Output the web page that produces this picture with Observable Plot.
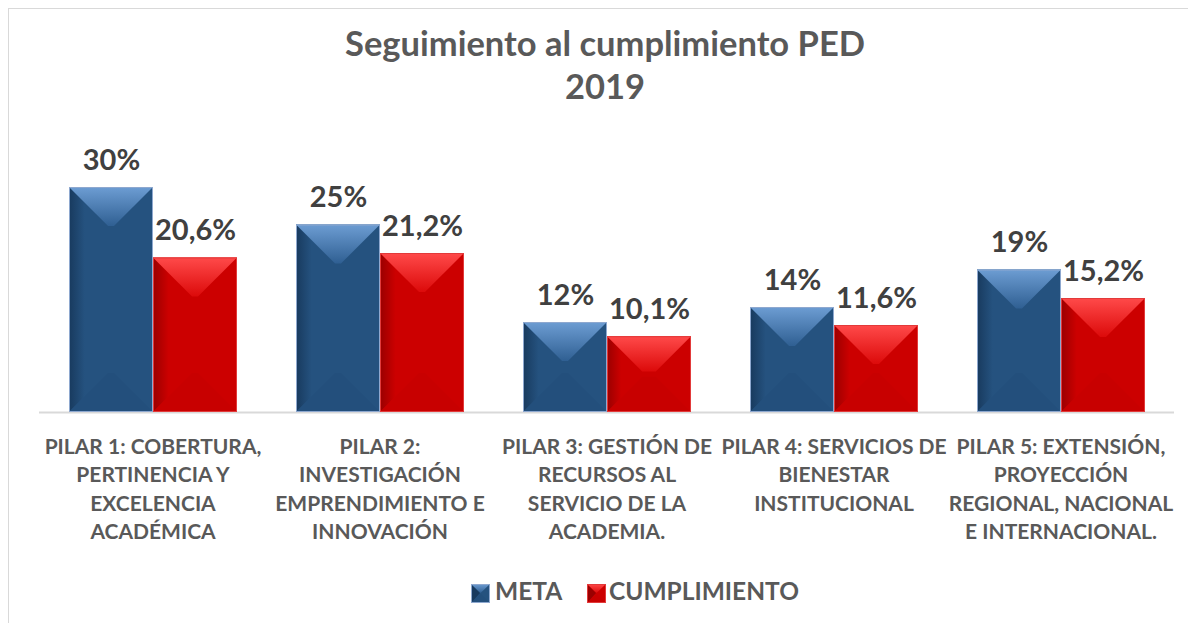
<!DOCTYPE html>
<html>
<head>
<meta charset="utf-8">
<script src="https://cdn.jsdelivr.net/npm/d3@7"></script>
<script src="https://cdn.jsdelivr.net/npm/@observablehq/plot@0.6"></script>
<style>
  html, body { margin: 0; padding: 0; background: #ffffff; }
  #wrap { position: relative; width: 1188px; height: 623px; overflow: hidden; font-family: Lato, "Open Sans", sans-serif; }
  #frame { position: absolute; left: 8px; top: 8px; width: 1300px; height: 800px; border: 1px solid #d9d9d9; box-sizing: border-box; }
  .title { position: absolute; left: 0; width: 1210px; text-align: center; font-weight: bold; font-size: 34.5px; line-height: 34.5px; color: #595959; white-space: nowrap; }
  #chart { position: absolute; left: 0; top: 120px; }
  .leg-text { position: absolute; font-weight: bold; font-size: 24.5px; line-height: 24.5px; color: #595959; white-space: nowrap; }
  .leg-sw { position: absolute; }
</style>
</head>
<body>
<div id="wrap">
  <div id="frame"></div>
  <div class="title" style="top:26px">Seguimiento al cumplimiento PED</div>
  <div class="title" style="top:69px">2019</div>
  <div id="chart"></div>
  <div id="legend"></div>
</div>
<script>
// ---- data ----
const categories = [
  "PILAR 1: COBERTURA,\nPERTINENCIA Y\nEXCELENCIA\nACADÉMICA",
  "PILAR 2:\nINVESTIGACIÓN\nEMPRENDIMIENTO E\nINNOVACIÓN",
  "PILAR 3: GESTIÓN DE\nRECURSOS AL\nSERVICIO DE LA\nACADEMIA.",
  "PILAR 4: SERVICIOS DE\nBIENESTAR\nINSTITUCIONAL",
  "PILAR 5: EXTENSIÓN,\nPROYECCIÓN\nREGIONAL, NACIONAL\nE INTERNACIONAL."
];
const series = ["META", "CUMPLIMIENTO"];
const meta = [30, 25, 12, 14, 19];
const cumplimiento = [20.6, 21.2, 10.1, 11.6, 15.2];

const seriesColors = ["#25527f", "#cc0000"];

const rows = categories.flatMap((c, i) => [
  {cat: c, serie: series[0], value: meta[i]},
  {cat: c, serie: series[1], value: cumplimiento[i]}
]);
const fmt = v => String(v).replace(".", ",") + "%";

const chart = Plot.plot({
  width: 1188,
  height: 440,
  marginLeft: 38,
  marginRight: 14,
  marginTop: 67,
  marginBottom: 148,
  style: {fontFamily: "Lato, 'Open Sans', sans-serif", background: "transparent", overflow: "visible"},
  fx: {domain: categories, paddingInner: 0, paddingOuter: 0, axis: null, label: null},
  x: {domain: series, paddingInner: 0, paddingOuter: 0.34, axis: null, label: null},
  y: {domain: [0, 30], axis: null, label: null},
  color: {domain: series, range: seriesColors},
  marks: [
    Plot.ruleY([0], {stroke: "#d9d9d9", strokeWidth: 2}),
    Plot.barY(rows, {fx: "cat", x: "serie", y: "value", fill: "serie", className: "pedbars"}),
    Plot.text(rows, {fx: "cat", x: "serie", y: "value", text: d => fmt(d.value), lineAnchor: "bottom", dy: -18,
      fontSize: 29, fontWeight: "bold", fill: "#404040"}),
    Plot.text(categories, {fx: d => d, text: d => d, frameAnchor: "bottom", lineAnchor: "top", dy: 21,
      fontSize: 21, fontWeight: "bold", fill: "#595959", lineHeight: 1.36})
  ]
});
document.getElementById("chart").appendChild(chart);

// ---- bevel shading (derived from the rendered bars) ----
const svg = d3.select(chart);
const defs = svg.insert("defs", ":first-child");
function addGrad(id, x2, y2, stops) {
  const g = defs.append("linearGradient").attr("id", id).attr("x1", 0).attr("y1", 0).attr("x2", x2).attr("y2", y2);
  stops.forEach(([o, c]) => g.append("stop").attr("offset", o).attr("stop-color", c));
}
const pal = {
  "#25527f": {top: ["#6d9dd3", "#2f5f92"], left: ["#183a5e", "#25527f"], bottom: "#234f7c", stroke: "#8ea8cf"},
  "#cc0000": {top: ["#ff4a4a", "#dc0a0a"], left: ["#9a0000", "#cc0000"], bottom: "#c80000", stroke: "#e23a3a"}
};
Object.entries(pal).forEach(([k, p], i) => {
  addGrad("top" + i, 0, 1, [[0, p.top[0]], [1, p.top[1]]]);
  addGrad("left" + i, 1, 0, [[0, p.left[0]], [0.4, p.left[1]], [1, p.left[1]]]);
});
function bevel(parent, x, y, w, h, idx, p) {
  const d = Math.min(w / 2, h / 2) * 0.93;
  const poly = (pts, fill) => parent.append("polygon").attr("points", pts.map(q => q.join(",")).join(" ")).attr("fill", fill);
  poly([[x, y], [x + d, y + d], [x + d, y + h - d], [x, y + h]], `url(#left${idx})`);
  poly([[x, y + h], [x + w, y + h], [x + w - d, y + h - d], [x + d, y + h - d]], p.bottom);
  poly([[x, y], [x + w, y], [x + w - d, y + d], [x + d, y + d]], `url(#top${idx})`);
  parent.append("rect").attr("x", x + 0.5).attr("y", y + 0.5).attr("width", w - 1).attr("height", h - 1)
    .attr("fill", "none").attr("stroke", p.stroke).attr("stroke-width", 1);
}
svg.selectAll("g.pedbars rect").each(function() {
  const r = d3.select(this);
  const fill = (r.attr("fill") || "").toLowerCase();
  const idx = fill === "#cc0000" ? 1 : 0;
  const p = pal[seriesColors[idx]];
  const x = +r.attr("x"), y = +r.attr("y"), w = +r.attr("width"), h = +r.attr("height");
  const g = d3.select(this.parentNode).append("g");
  bevel(g, x, y, w, h, idx, p);
});

// ---- legend ----
const legend = d3.select("#legend");
const legendItems = [
  {label: series[0], idx: 0, sx: 471, tx: 495},
  {label: series[1], idx: 1, sx: 587, tx: 609}
];
legendItems.forEach(it => {
  const p = pal[seriesColors[it.idx]];
  const s = legend.append("svg").attr("class", "leg-sw").attr("width", 19).attr("height", 19)
    .style("left", it.sx + "px").style("top", "584px");
  const sd = s.append("defs");
  const gt = sd.append("linearGradient").attr("id", "lt" + it.idx).attr("x1", 0).attr("y1", 0).attr("x2", 0).attr("y2", 1);
  gt.append("stop").attr("offset", 0).attr("stop-color", p.top[0]);
  gt.append("stop").attr("offset", 1).attr("stop-color", p.top[1]);
  s.append("rect").attr("width", 19).attr("height", 19).attr("fill", seriesColors[it.idx]);
  const W = 19, H = 19, d = 9;
  const poly = (pts, fill) => s.append("polygon").attr("points", pts.map(q => q.join(",")).join(" ")).attr("fill", fill);
  poly([[0, 0], [d, d], [0, H]], p.left[0]);
  poly([[0, H], [W, H], [W - d, H - d]], p.bottom);
  poly([[0, 0], [W, 0], [W / 2, d]], `url(#lt${it.idx})`);
  s.append("rect").attr("x", 0.5).attr("y", 0.5).attr("width", W - 1).attr("height", H - 1).attr("fill", "none").attr("stroke", p.stroke);
  legend.append("div").attr("class", "leg-text").style("left", it.tx + "px").style("top", "579px").text(it.label);
});
</script>
</body>
</html>
